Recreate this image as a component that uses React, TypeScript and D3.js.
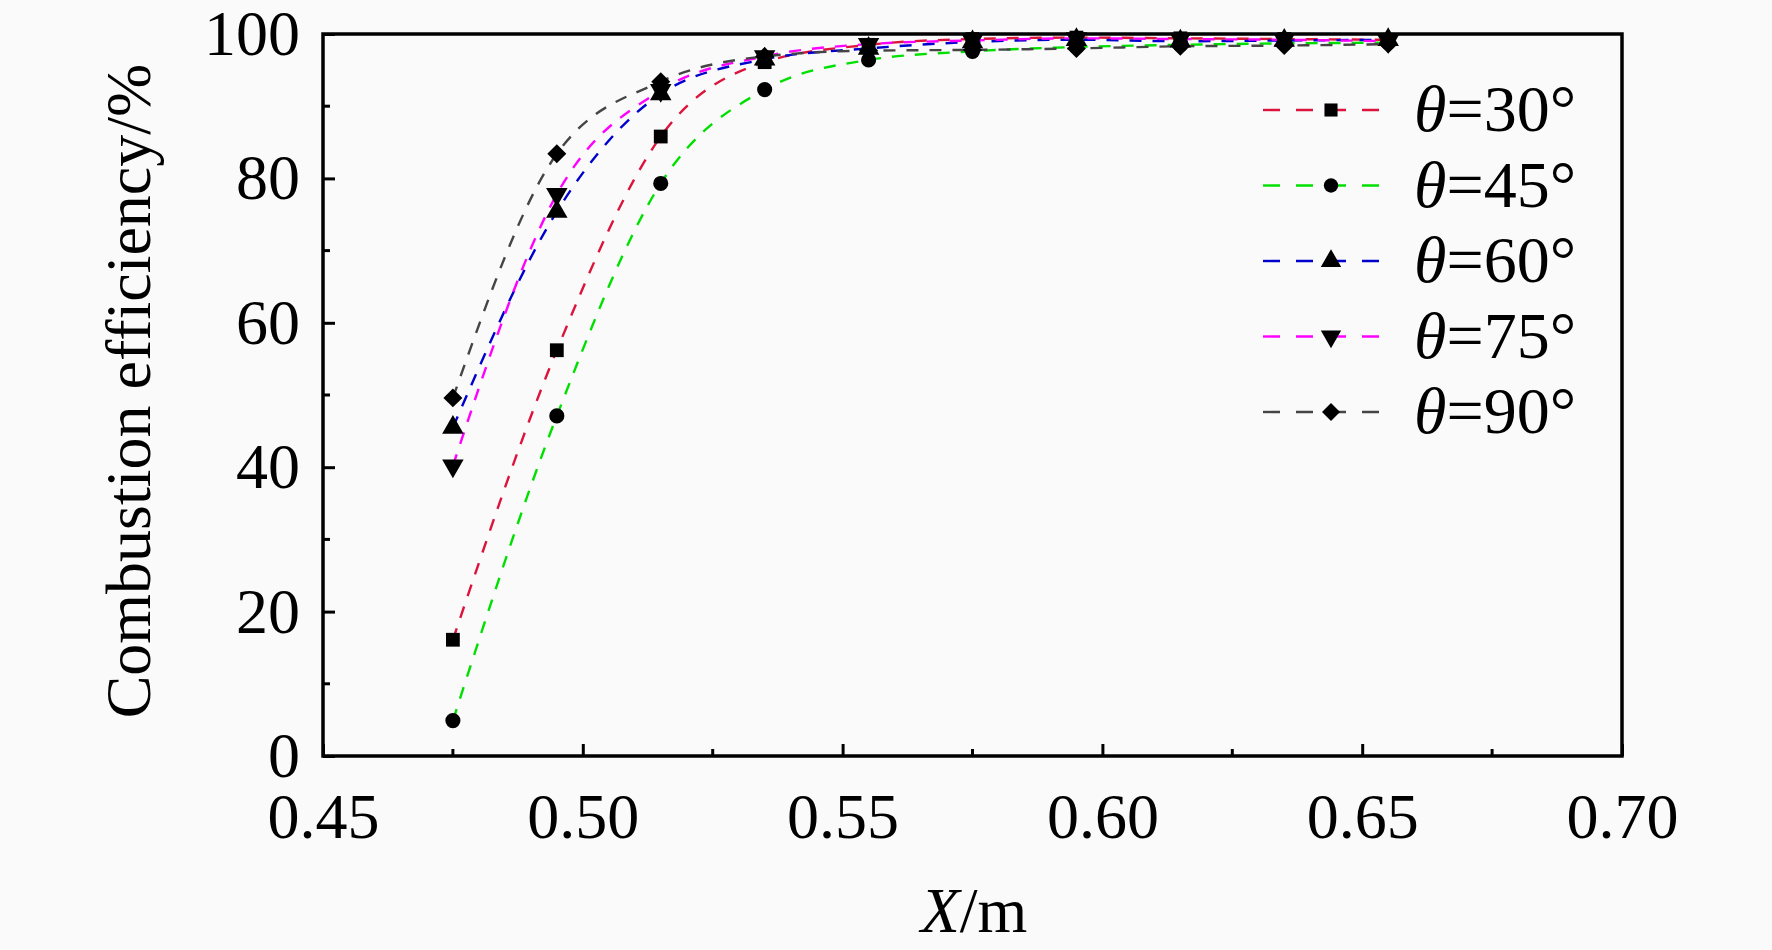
import * as React from 'react';
import * as d3 from 'd3';

// positions along the burner (m)
const xPositions = [0.475, 0.495, 0.515, 0.535, 0.555, 0.575, 0.595, 0.615, 0.635, 0.655];

// combustion efficiency (%) for each swirl angle
const theta30 = [16.1, 56.2, 85.8, 96.1, 98.5, 99.3, 99.5, 99.4, 99.3, 99.2];
const theta45 = [4.9, 47.1, 79.3, 92.3, 96.4, 97.6, 98.2, 98.5, 98.7, 98.8];
const theta60 = [45.5, 75.4, 91.7, 96.5, 98.0, 98.9, 99.2, 99.0, 99.1, 99.2];
const theta75 = [40.2, 77.8, 92.2, 96.9, 98.6, 99.1, 99.4, 99.3, 99.2, 99.0];
const theta90 = [49.6, 83.4, 93.4, 96.9, 97.7, 97.8, 98.0, 98.3, 98.4, 98.6];

const seriesNames = ['30', '45', '60', '75', '90'];
const xTicks = [0.45, 0.5, 0.55, 0.6, 0.65, 0.7];
const yTicks = [0, 20, 40, 60, 80, 100];

const W = 1772;
const H = 950;
const margin = { left: 323, right: W - 1622, top: 34, bottom: H - 756 };
const FONT = '"Liberation Serif", "Times New Roman", serif';

const series = [
  { name: seriesNames[0], values: theta30, color: '#DC143C', symbol: d3.symbolSquare, size: 190, rotate: 0 },
  { name: seriesNames[1], values: theta45, color: '#00E000', symbol: d3.symbolCircle, size: 180, rotate: 0 },
  { name: seriesNames[2], values: theta60, color: '#0000CC', symbol: d3.symbolTriangle, size: 200, rotate: 0 },
  { name: seriesNames[3], values: theta75, color: '#FF00FF', symbol: d3.symbolTriangle, size: 200, rotate: 180 },
  { name: seriesNames[4], values: theta90, color: '#454545', symbol: d3.symbolSquare, size: 180, rotate: 45 },
];

export default function App() {
  const ref = React.useRef<SVGSVGElement>(null);

  React.useEffect(() => {
    const svg = d3.select(ref.current);
    svg.selectAll('*').remove();

    svg.append('rect').attr('width', W).attr('height', H).attr('fill', '#fafafa');

    const x = d3.scaleLinear().domain([0.45, 0.7]).range([margin.left, W - margin.right]);
    const y = d3.scaleLinear().domain([0, 100]).range([H - margin.bottom, margin.top]);

    const g = svg.append('g');

    // lines
    const line = d3
      .line<number>()
      .x((_d, i) => x(xPositions[i]))
      .y((d) => y(d))
      .curve(d3.curveMonotoneX);

    series.forEach((s) => {
      g.append('path')
        .attr('d', line(s.values))
        .attr('fill', 'none')
        .attr('stroke', s.color)
        .attr('stroke-width', 2.4)
        .attr('stroke-dasharray', '12,11');
    });

    series.forEach((s) => {
      g.selectAll(null)
        .data(s.values)
        .enter()
        .append('path')
        .attr('d', d3.symbol().type(s.symbol).size(s.size)() as string)
        .attr('transform', (d, i) => `translate(${x(xPositions[i])},${y(d)}) rotate(${s.rotate})`)
        .attr('fill', '#000');
    });

    // axes, ticks inward
    const xMinor = d3.range(0.475, 0.7, 0.05);
    const yMinor = d3.range(10, 100, 20);

    const xAxis = svg
      .append('g')
      .attr('transform', `translate(0,${H - margin.bottom})`)
      .call(
        d3
          .axisBottom(x)
          .tickValues(xTicks)
          .tickSize(-12)
          .tickFormat((d) => d3.format('.2f')(d as number))
      );
    xAxis.select('.domain').remove();
    xAxis.selectAll('line').attr('stroke', '#000').attr('stroke-width', 3);
    xAxis
      .selectAll('text')
      .attr('y', 82)
      .attr('dy', 0)
      .attr('fill', '#000')
      .style('font-family', FONT)
      .style('font-size', '64px');

    svg
      .append('g')
      .selectAll('line')
      .data(xMinor)
      .enter()
      .append('line')
      .attr('x1', (d) => x(d))
      .attr('x2', (d) => x(d))
      .attr('y1', H - margin.bottom)
      .attr('y2', H - margin.bottom - 7)
      .attr('stroke', '#000')
      .attr('stroke-width', 3);

    const yAxis = svg
      .append('g')
      .attr('transform', `translate(${margin.left},0)`)
      .call(d3.axisLeft(y).tickValues(yTicks).tickSize(-12).tickPadding(23));
    yAxis.select('.domain').remove();
    yAxis.selectAll('line').attr('stroke', '#000').attr('stroke-width', 3);
    yAxis
      .selectAll('text')
      .attr('x', -23)
      .attr('dy', '0.32em')
      .attr('fill', '#000')
      .style('font-family', FONT)
      .style('font-size', '64px');

    svg
      .append('g')
      .selectAll('line')
      .data(yMinor)
      .enter()
      .append('line')
      .attr('x1', margin.left)
      .attr('x2', margin.left + 7)
      .attr('y1', (d) => y(d))
      .attr('y2', (d) => y(d))
      .attr('stroke', '#000')
      .attr('stroke-width', 3);

    // frame
    svg
      .append('rect')
      .attr('x', margin.left)
      .attr('y', margin.top)
      .attr('width', W - margin.left - margin.right)
      .attr('height', H - margin.top - margin.bottom)
      .attr('fill', 'none')
      .attr('stroke', '#000')
      .attr('stroke-width', 3.5);

    // axis titles
    const xt = svg
      .append('text')
      .attr('x', 974)
      .attr('y', 932)
      .attr('text-anchor', 'middle')
      .style('font-family', FONT)
      .style('font-size', '64px');
    xt.append('tspan').attr('font-style', 'italic').text('X');
    xt.append('tspan').text('/m');

    svg
      .append('text')
      .attr('transform', 'translate(150,391) rotate(-90)')
      .attr('text-anchor', 'middle')
      .style('font-family', FONT)
      .style('font-size', '64px')
      .text('Combustion efficiency/%');

    // legend
    const lg = svg.append('g');
    series.forEach((s, i) => {
      const ly = 110 + i * 75.5;
      lg.append('line')
        .attr('x1', 1263)
        .attr('x2', 1393)
        .attr('y1', ly)
        .attr('y2', ly)
        .attr('stroke', s.color)
        .attr('stroke-width', 2.4)
        .attr('stroke-dasharray', '17,16');
      lg.append('path')
        .attr('d', d3.symbol().type(s.symbol).size(s.size * 0.9)() as string)
        .attr('transform', `translate(1331,${ly}) rotate(${s.rotate})`)
        .attr('fill', '#000');
      const t = lg
        .append('text')
        .attr('x', 1414)
        .attr('y', ly + 21)
        .style('font-family', FONT)
        .style('font-size', '66px');
      t.append('tspan').attr('font-style', 'italic').text('θ');
      t.append('tspan').text(`=${s.name}°`);
    });
  }, []);

  return (
    <svg
      ref={ref}
      width={W}
      height={H}
      style={{ position: 'absolute', left: 0, top: 0, display: 'block' }}
    />
  );
}
